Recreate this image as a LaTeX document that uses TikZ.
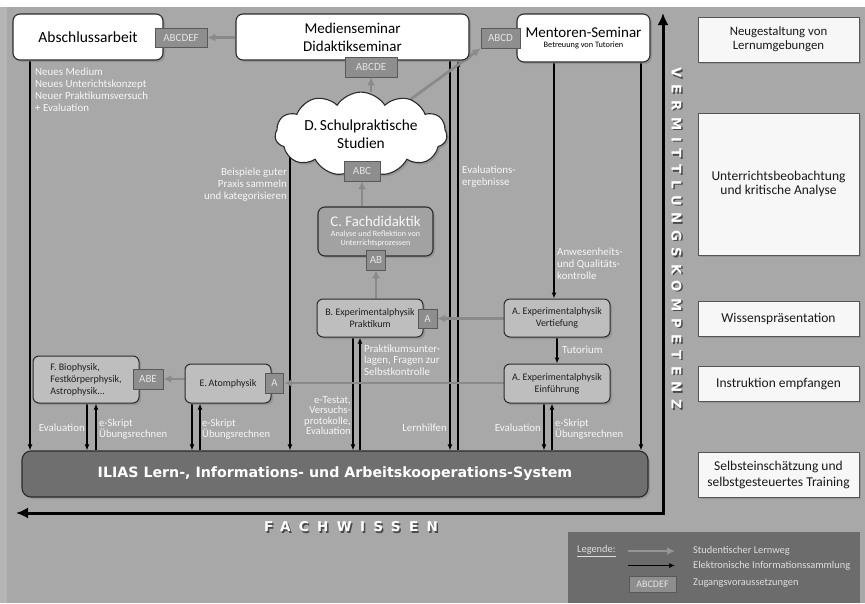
\documentclass[tikz,border=0pt]{standalone}
\usepackage{fontspec}
\setmainfont{Carlito}
\newfontfamily\iliasfont{DejaVu Sans}
\newfontfamily\vkfont[LetterSpace=50]{DejaVu Sans}
\newfontfamily\fwfont[LetterSpace=62]{DejaVu Sans}
\usetikzlibrary{shapes.symbols,shadows,arrows.meta,calc}
\definecolor{bggrey}{HTML}{A8A8A8}
\definecolor{stripgrey}{HTML}{B5B5B5}
\definecolor{boxgrey}{HTML}{BEBEBE}
\definecolor{cgrey}{HTML}{A2A2A2}
\definecolor{taggrey}{HTML}{8E8E8E}
\definecolor{tagtext}{HTML}{E4E4E4}
\definecolor{arrowgrey}{HTML}{8A8A8A}
\definecolor{legarrow}{HTML}{959595}
\definecolor{iliasgrey}{HTML}{6F6F6F}
\definecolor{legendgrey}{HTML}{6C6C6C}
\definecolor{labelwhite}{HTML}{F7F7F7}
\definecolor{legtext}{HTML}{DEDEDE}
\definecolor{edge}{HTML}{2B2B2B}
\pgfdeclarelayer{backlayer}
\pgfdeclarelayer{connlayer}
\pgfsetlayers{backlayer,connlayer,main}
\tikzset{
  myshadow/.style={drop shadow={opacity=.45, shadow xshift=2pt, shadow yshift=-2pt}},
  whitebox/.style={draw=edge, line width=1.1pt, fill=white, rounded corners=7pt, myshadow, inner sep=0pt, align=center, text=black},
  panelbox/.style={draw=edge!80, line width=.8pt, fill=white!97!black, myshadow, inner sep=0pt, align=center, text=black!90, minimum width=161pt, font=\fontsize{13.5}{15}\selectfont},
  greybox/.style={draw=edge, line width=1pt, fill=boxgrey, rounded corners=6pt, myshadow, inner sep=0pt, align=center, text=black!88, minimum width=106pt, font=\fontsize{10}{12}\selectfont},
  tagbox/.style={draw=black!65, line width=.8pt, fill=taggrey, text=tagtext, font=\fontsize{11}{12}\selectfont, inner sep=0pt},
  elink/.style={draw=black, line width=1.3pt, -{Latex[length=6pt,width=5pt]}},
  lweg/.style={draw=arrowgrey, line width=2.8pt, -{Latex[length=8pt,width=8pt]}},
  lbl/.style={text=labelwhite, font=\fontsize{10.9}{12}\selectfont, inner sep=0pt},
  legtxt/.style={text=legtext, font=\fontsize{10.4}{12}\selectfont, inner sep=0pt, anchor=west},
  bigtext/.style={inner sep=0pt}
}
\begin{document}
\begin{tikzpicture}[x=1pt,y=-1pt]
\useasboundingbox (0,0) rectangle (865,603);
\begin{pgfonlayer}{backlayer}
  \fill[white] (0,0) rectangle (865,603);
  \fill[stripgrey] (0,7) rectangle (7,603);
  \fill[bggrey] (7,7) rectangle (865,603);
\end{pgfonlayer}

% top row
\node[whitebox, minimum width=150pt, minimum height=46pt, font=\fontsize{15.5}{18}\selectfont] (absch) at (88,37) {Abschlussarbeit};
\node[tagbox, minimum width=52pt, minimum height=19pt] (tagF) at (181,37.5) {ABCDEF};
\node[whitebox, minimum width=233pt, minimum height=46pt, font=\fontsize{15}{18}\selectfont] (medien) at (352.5,37) {Medienseminar\\Didaktikseminar};
\node[tagbox, minimum width=52pt, minimum height=20pt] (tagE) at (371,67) {ABCDE};
\node[whitebox, minimum width=133pt, minimum height=48pt] (mentoren) at (583.5,38) {{\fontsize{15}{16}\selectfont Mentoren-Seminar}\\[-2pt]{\fontsize{8.3}{9}\selectfont Betreuung von Tutorien}};
\node[tagbox, minimum width=39pt, minimum height=20pt] (tagD) at (500.5,38) {ABCD};

% cloud
\node[cloud, cloud puffs=11, cloud puff arc=115, aspect=2.6, draw=edge, line width=1.1pt, fill=white, myshadow, minimum width=172pt, minimum height=64pt, inner sep=0pt, align=center, font=\fontsize{15.4}{18}\selectfont] (D) at (361,134) {D.\,Schulpraktische\\Studien};
\node[tagbox, minimum width=36pt, minimum height=20pt] (tagC) at (362,171) {ABC};

% Fachdidaktik
\node[draw=edge, line width=1.1pt, fill=cgrey, rounded corners=7pt, myshadow, minimum width=115pt, minimum height=49pt, inner sep=0pt, align=center, text=labelwhite, font=\fontsize{8.1}{9}\selectfont] (fach) at (375.5,231.5) {{\fontsize{14.8}{16}\selectfont C. Fachdidaktik}\\[1pt]Analyse und Reflektion von\\Unterrichtsprozessen};
\node[tagbox, minimum width=19pt, minimum height=20pt] (tagB) at (376,260) {AB};

% physics boxes
\node[greybox, minimum height=38pt] (bprak) at (370,318) {B. Experimentalphysik\\Praktikum};
\node[tagbox, minimum width=19pt, minimum height=19pt] (tagAb) at (427.5,318.5) {A};
\node[greybox, minimum height=38pt] (avert) at (557,318) {A. Experimentalphysik\\Vertiefung};
\node[greybox, minimum height=39pt] (aein) at (557,383.5) {A. Experimentalphysik\\Einführung};
\node[greybox, minimum width=86pt, minimum height=39pt] (eatom) at (228,383.5) {E.\,Atomphysik};
\node[tagbox, minimum width=18pt, minimum height=20pt] (tagAe) at (274.5,383) {A};
\node[greybox, minimum height=47pt, align=left] (fbio) at (86,379.5) {F. Biophysik,\\Festkörperphysik,\\Astrophysik...};
\node[tagbox, minimum width=30pt, minimum height=20pt] (tagABE) at (148,379) {ABE};

% ILIAS
\node[draw=edge, line width=1.1pt, fill=iliasgrey, rounded corners=9pt, myshadow, minimum width=626pt, minimum height=46pt, inner sep=0pt, text=white, font=\iliasfont\bfseries\fontsize{14.2}{16}\selectfont] (ilias) at (335,474) {ILIAS Lern-, Informations- und Arbeitskooperations-System};

% right panel
\node[panelbox, minimum height=45pt, font=\fontsize{12.8}{14}\selectfont] (r1) at (778.5,39.5) {Neugestaltung von\\Lernumgebungen};
\node[panelbox, minimum height=142pt, font=\fontsize{13.5}{14.5}\selectfont] (r2) at (778.5,184) {Unterrichtsbeobachtung\\und kritische Analyse};
\node[panelbox, minimum height=35pt] (r3) at (778.5,318.5) {Wissenspräsentation};
\node[panelbox, minimum height=35pt] (r4) at (778.5,383.5) {Instruktion empfangen};
\node[panelbox, minimum height=45pt, font=\fontsize{13.5}{16}\selectfont] (r5) at (778.5,474.5) {Selbsteinschätzung und\\selbstgesteuertes Training};

% legend
\node[fill=legendgrey, minimum width=292pt, minimum height=71pt, inner sep=0pt] (legend) at (714,567.5) {};
\node[legtxt] (legtitle) at (577,551) {\underline{Legende:}};
\coordinate (lgA1) at (628,551); \coordinate (lgA2) at (675,551);
\coordinate (lgB1) at (628,565.5); \coordinate (lgB2) at (675,565.5);
\node[tagbox, minimum width=47pt, minimum height=16pt, font=\fontsize{10}{11}\selectfont] (legtag) at (652.5,584) {ABCDEF};
\node[legtxt] (leg1) at (693,551) {Studentischer Lernweg};
\node[legtxt] (leg2) at (693,565.5) {Elektronische Informationssammlung};
\node[legtxt] (leg3) at (693,583) {Zugangsvoraussetzungen};
\draw[lweg, draw=legarrow] (lgA1) -- (lgA2);
\draw[elink] (lgB1) -- (lgB2);

% columns
\foreach \n/\x in {c30/30, c87/87, c96/96, c192/192, c200/200, c290/290, c353/353, c360/360, c450/450, c458/458, c544/544, c552/552, c554/554, c557/557, c641/641} {\coordinate (\n) at (\x,0);}

\coordinate (corner) at (663,513);
\coordinate (fwEnd) at (16,513);
\coordinate (vkEnd) at (663,13);

\begin{pgfonlayer}{connlayer}
  \draw[elink] (absch.south -| c30) -- (ilias.north -| c30);
  \draw[elink] (fbio.south -| c87) -- (ilias.north -| c87);
  \draw[elink] (ilias.north -| c96) -- (fbio.south -| c96);
  \draw[elink] (eatom.south -| c192) -- (ilias.north -| c192);
  \draw[elink] (ilias.north -| c200) -- (eatom.south -| c200);
  \draw[elink] (D.center -| c290) -- (ilias.north -| c290);
  \draw[elink] (bprak.south -| c353) -- (ilias.north -| c353);
  \draw[elink] (ilias.north -| c360) -- (bprak.south -| c360);
  \draw[elink] (medien.south -| c450) -- (ilias.north -| c450);
  \draw[elink] (ilias.north -| c458) -- (medien.south -| c458);
  \draw[elink] (mentoren.south -| c554) -- (avert.north -| c554);
  \draw[elink] (avert.south -| c557) -- (aein.north -| c557);
  \draw[elink] (mentoren.south -| c641) -- (ilias.north -| c641);
  \draw[elink] (aein.south -| c544) -- (ilias.north -| c544);
  \draw[elink] (ilias.north -| c552) -- (aein.south -| c552);
  % student path
  \draw[lweg] (medien.west |- tagF.east) -- (tagF.east);
  \draw[lweg] (tagE.south |- D.north) -- (tagE.south);
  \draw[lweg] (D.35) -- (tagD.south west);
  \draw[lweg] (tagC.south |- fach.north) -- (tagC.south);
  \draw[lweg] (tagB.south |- bprak.north) -- (tagB.south);
  \draw[lweg] (avert.west |- tagAb.east) -- (tagAb.east);
  \draw[lweg] (aein.west |- tagAe.east) -- (tagAe.east);
  \draw[lweg] (eatom.west |- tagABE.east) -- (tagABE.east);
  % axes
  \draw[line width=3pt, {Latex[length=12pt,width=11pt]}-{Latex[length=12pt,width=11pt]}] (fwEnd) -- (corner) -- (vkEnd);
\end{pgfonlayer}

% labels
\node[lbl, anchor=west, align=left] (l1) at (35,89.5) {Neues Medium\\Neues Unterichtskonzept\\Neuer Praktikumsversuch\\+ Evaluation};
\node[lbl, anchor=east, align=right] (l2) at (287,185) {Beispiele guter\\Praxis sammeln\\und kategorisieren};
\node[lbl, anchor=west, align=left] (l3) at (462,177) {Evaluations-\\ergebnisse};
\node[lbl, anchor=west, align=left] (l4) at (557,264) {Anwesenheits-\\und Qualitäts-\\kontrolle};
\node[lbl, anchor=west] (l5) at (562,350) {Tutorium};
\node[lbl, anchor=west, align=left, font=\fontsize{10.9}{11.5}\selectfont] (l6) at (364,360) {Praktikumsunter-\\lagen, Fragen zur\\Selbstkontrolle};
\node[lbl, anchor=east, align=right, font=\fontsize{10.6}{10.4}\selectfont] (l7) at (351,415.5) {e-Testat,\\Versuchs-\\protokolle,\\Evaluation};
\node[lbl, anchor=east] (l8) at (447,428) {Lernhilfen};
\node[lbl, anchor=east] (l9) at (541,428) {Evaluation};
\node[lbl, anchor=west, align=left, font=\fontsize{10.6}{11}\selectfont] (l10) at (555,429) {e-Skript\\Übungsrechnen};
\node[lbl, anchor=east] (l11) at (85,428) {Evaluation};
\node[lbl, anchor=west, align=left, font=\fontsize{10.6}{11}\selectfont] (l12) at (99,429) {e-Skript\\Übungsrechnen};
\node[lbl, anchor=west, align=left, font=\fontsize{10.6}{11}\selectfont] (l13) at (202,429) {e-Skript\\Übungsrechnen};

% axis titles
\node[bigtext, text=black, opacity=.55, rotate=-90, font=\vkfont\bfseries\fontsize{13.3}{14}\selectfont] (vkshadow) at (678,240) {VERMITTLUNGSKOMPETENZ};
\node[bigtext, text=white, rotate=-90, font=\vkfont\bfseries\fontsize{13.3}{14}\selectfont] (vk) at (676.5,238.5) {VERMITTLUNGSKOMPETENZ};
\node[bigtext, text=black, opacity=.55, font=\fwfont\bfseries\fontsize{13.5}{14}\selectfont] (fwshadow) at (352.5,528.5) {FACHWISSEN};
\node[bigtext, text=white, font=\fwfont\bfseries\fontsize{13.5}{14}\selectfont] (fw) at (351,527) {FACHWISSEN};
\end{tikzpicture}
\end{document}
